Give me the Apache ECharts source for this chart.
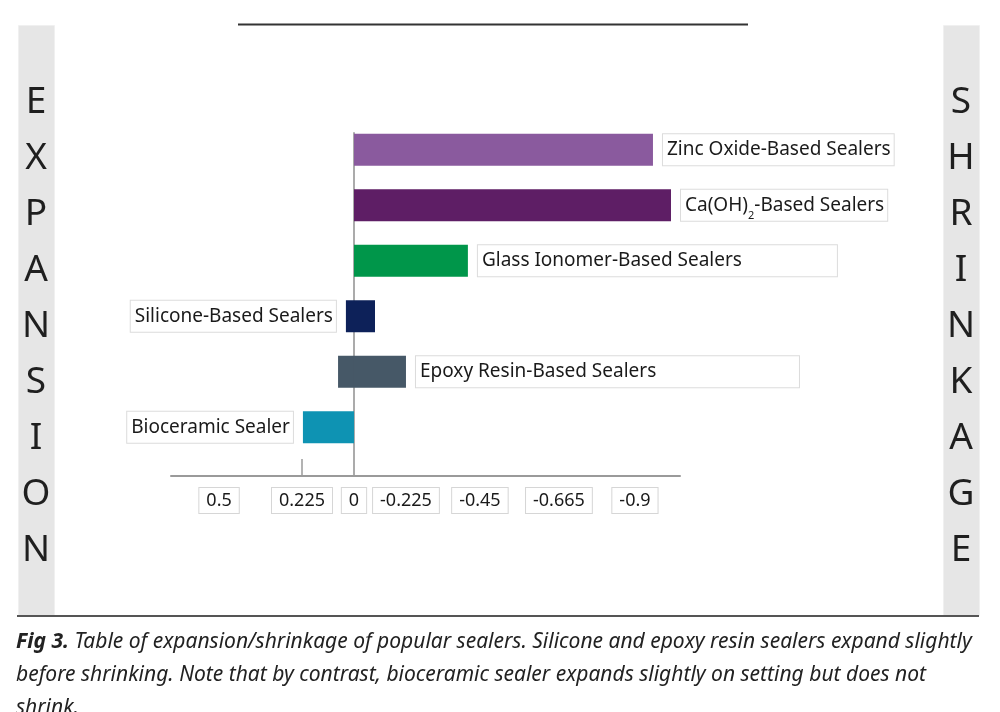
<!DOCTYPE html>
<html>
<head>
<meta charset="utf-8">
<script src="https://cdn.jsdelivr.net/npm/echarts@6/dist/echarts.min.js"></script>
<style>
html,body{margin:0;padding:0;background:#fff;}
#chart{width:1000px;height:712px;}
</style>
</head>
<body>
<div id="chart"></div>
<script>
// ---- data ----
const categories = ['Zinc Oxide-Based Sealers', 'Ca(OH)2-Based Sealers', 'Glass Ionomer-Based Sealers',
  'Silicone-Based Sealers', 'Epoxy Resin-Based Sealers', 'Bioceramic Sealer'];
// expansion (positive, drawn to the left) and shrinkage (negative, drawn to the right)
const expansion = [0, 0, 0, 0.035, 0.069, 0.221];
const shrinkage = [-1.294, -1.372, -0.493, -0.091, -0.225, 0];
const barColors = ['#8A5A9E', '#5E1E65', '#00964A', '#0D2159', '#465867', '#0E93B3'];
// tick labels as printed, and where they sit on the axis
const tickLabels = ['0.5', '0.225', '0', '-0.225', '-0.45', '-0.665', '-0.9'];
const tickLabelPositions = [0.584, 0.225, 0, -0.225, -0.545, -0.887, -1.216];
const tickMarks = [0.225];
const leftWord = 'EXPANSION';
const rightWord = 'SHRINKAGE';
const captionBold = 'Fig 3.';
const captionLines = [
  ' Table of expansion/shrinkage of popular sealers. Silicone and epoxy resin sealers expand slightly',
  'before shrinking. Note that by contrast, bioceramic sealer expands slightly on setting but does not',
  'shrink.'
];

// ---- styling ----
const FONT = '"Noto Sans", "Open Sans", sans-serif';
const labelBase = {
  show: true, fontFamily: FONT, fontSize: 19, color: '#1a1a1a',
  backgroundColor: '#fff', borderColor: '#dcdcdc', borderWidth: 1,
  padding: [4, 3, 4, 4], distance: 10
};
const labelWidths = [null, null, 352, null, 376, null];
const rich = {
  t: { fontFamily: FONT, fontSize: 19, color: '#1a1a1a', lineHeight: 23 },
  s: { fontFamily: FONT, fontSize: 11, color: '#1a1a1a', lineHeight: 23, verticalAlign: 'bottom', padding: [0, 0, -5, 0] }
};
function labelText(name) {
  if (name.indexOf('Ca(OH)2') === 0) return '{t|Ca(OH)}{s|2}{t|' + name.slice(7) + '}';
  return '{t|' + name + '}';
}

// label on the side the bar mainly extends to
const expData = expansion.map((v, i) => {
  const o = { value: v, itemStyle: { color: barColors[i] } };
  if (v > 0 && (v > -shrinkage[i] / 3)) {
    o.label = Object.assign({}, labelBase, { position: 'left', formatter: labelText(categories[i]), rich: rich });
  }
  return o;
});
const shrData = shrinkage.map((v, i) => {
  const o = { value: v, itemStyle: { color: barColors[i] } };
  if (!expData[i].label) {
    const l = Object.assign({}, labelBase, { position: 'right', formatter: labelText(categories[i]), rich: rich });
    if (labelWidths[i]) { l.width = labelWidths[i]; l.align = 'left'; }
    o.label = l;
  }
  return o;
});

const XMIN = -1.411, XMAX = 0.792;

const letters = (word, cx) => ({
  type: 'text', z: 10,
  style: {
    x: cx, y: 74, text: word.split('').join('\n'), fill: '#1f1f1f', font: '37px ' + FONT,
    lineHeight: 56.1, align: 'center', verticalAlign: 'top'
  }
});

const chart = echarts.init(document.getElementById('chart'), null, { renderer: 'canvas' });
chart.setOption({
  backgroundColor: '#fff',
  animation: false,
  grid: [
    { left: 171, right: 320, top: 133, bottom: 236 },
    { left: 171, right: 320, top: 122, bottom: 257 }
  ],
  xAxis: [
    {
      gridIndex: 0, type: 'value', inverse: true, min: XMIN, max: XMAX,
      axisLine: { show: true, onZero: false, lineStyle: { color: '#9a9a9a', width: 2 } },
      axisTick: { show: true, inside: true, length: 17, customValues: tickMarks, lineStyle: { color: '#9a9a9a', width: 1.5 } },
      splitLine: { show: false },
      axisLabel: {
        customValues: tickLabelPositions,
        formatter: function (val) {
          let best = 0;
          tickLabelPositions.forEach((p, i) => { if (Math.abs(p - val) < Math.abs(tickLabelPositions[best] - val)) best = i; });
          return tickLabels[best];
        },
        fontFamily: FONT, fontSize: 18, color: '#1a1a1a',
        backgroundColor: '#fff', borderColor: '#d6d6d6', borderWidth: 1,
        padding: [4, 7, 3, 7], margin: 12
      }
    },
    { gridIndex: 1, type: 'value', inverse: true, min: XMIN, max: XMAX, show: false }
  ],
  yAxis: [
    {
      gridIndex: 0, type: 'value', min: 0, max: 1,
      axisLine: { show: true, onZero: true, lineStyle: { color: '#ababab', width: 2 } },
      axisTick: { show: false }, axisLabel: { show: false }, splitLine: { show: false }
    },
    { gridIndex: 1, type: 'category', inverse: true, data: categories, show: false }
  ],
  series: [
    { name: 'Expansion', type: 'bar', xAxisIndex: 1, yAxisIndex: 1, stack: 'total', barWidth: 32, data: expData },
    { name: 'Shrinkage', type: 'bar', xAxisIndex: 1, yAxisIndex: 1, stack: 'total', barWidth: 32, data: shrData }
  ],
  graphic: [
    { type: 'rect', left: 18, top: 25, shape: { width: 36, height: 590 }, style: { fill: '#e6e6e6', stroke: '#f0f0f0', lineWidth: 1 }, z: 1 },
    { type: 'rect', left: 943, top: 25, shape: { width: 36, height: 590 }, style: { fill: '#e6e6e6', stroke: '#f0f0f0', lineWidth: 1 }, z: 1 },
    letters(leftWord, 36),
    letters(rightWord, 961),
    { type: 'line', shape: { x1: 238, y1: 24.5, x2: 748, y2: 24.5 }, style: { stroke: '#333', lineWidth: 2 }, z: 5 },
    { type: 'line', shape: { x1: 17, y1: 616, x2: 979, y2: 616 }, style: { stroke: '#555', lineWidth: 2 }, z: 5 },
    {
      type: 'text', left: 16, top: 632, z: 5,
      style: {
        text: '{b|' + captionBold + '}{i|' + captionLines[0] + '}\n{i|' + captionLines[1] + '}\n{i|' + captionLines[2] + '}',
        rich: {
          b: { font: 'italic bold 21px ' + FONT, fill: '#222', lineHeight: 33 },
          i: { font: 'italic 21px ' + FONT, fill: '#222', lineHeight: 33 }
        }
      }
    }
  ]
});
</script>
</body>
</html>
